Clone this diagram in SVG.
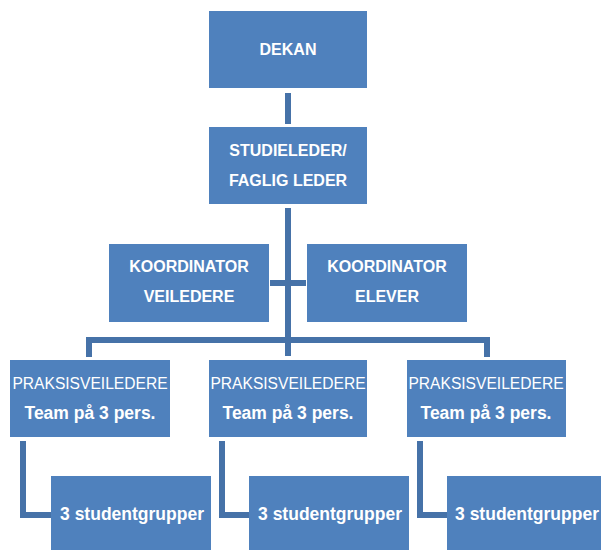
<svg xmlns="http://www.w3.org/2000/svg" width="601" height="550" viewBox="0 0 601 550">
<style>
.box{fill:#4F81BD}
.t{fill:#fff;font-family:"Liberation Sans",Arial,sans-serif;font-size:16px;font-weight:bold;text-anchor:middle;dominant-baseline:central}
.r{font-weight:normal;font-size:15.6px}
.l{font-size:17.5px}
.c{fill:none;stroke:#4672A8;stroke-width:6;stroke-linejoin:miter}
</style>
<rect width="601" height="550" fill="#fff"/>
<g id="connectors">
<path class="c" d="M288,93V124"/>
<path class="c" d="M288,208V356"/>
<path class="c" d="M270,283H306"/>
<path class="c" d="M89,357V340H487V357"/>
<path class="c" d="M23,441V515H51"/>
<path class="c" d="M222,441V515H249"/>
<path class="c" d="M420,441V515H447"/>
</g>
<g id="dekan"><rect class="box" x="209" y="11" width="158" height="77"/><text class="t" x="288" y="49">DEKAN</text></g>
<g id="studieleder"><rect class="box" x="209" y="127" width="158" height="77"/><text class="t" x="288" y="150">STUDIELEDER/</text><text class="t" x="288" y="180">FAGLIG LEDER</text></g>
<g id="koord-veiledere"><rect class="box" x="109" y="244" width="160" height="78"/><text class="t" x="189" y="266">KOORDINATOR</text><text class="t" x="189" y="296">VEILEDERE</text></g>
<g id="koord-elever"><rect class="box" x="307" y="244" width="160" height="78"/><text class="t" x="387" y="266">KOORDINATOR</text><text class="t" x="387" y="296">ELEVER</text></g>
<g id="praksis1"><rect class="box" x="10" y="360" width="160" height="77"/><text class="t r" x="90" y="383">PRAKSISVEILEDERE</text><text class="t l" x="90" y="413">Team på 3 pers.</text></g>
<g id="praksis2"><rect class="box" x="209" y="360" width="158" height="77"/><text class="t r" x="288" y="383">PRAKSISVEILEDERE</text><text class="t l" x="288" y="413">Team på 3 pers.</text></g>
<g id="praksis3"><rect class="box" x="407" y="360" width="159" height="77"/><text class="t r" x="486" y="383">PRAKSISVEILEDERE</text><text class="t l" x="486" y="413">Team på 3 pers.</text></g>
<g id="student1"><rect class="box" x="51" y="476" width="160" height="74"/><text class="t l" x="132" y="514">3 studentgrupper</text></g>
<g id="student2"><rect class="box" x="249" y="476" width="160" height="74"/><text class="t l" x="330" y="514">3 studentgrupper</text></g>
<g id="student3"><rect class="box" x="447" y="476" width="154" height="74"/><text class="t l" x="527" y="514">3 studentgrupper</text></g>
</svg>
